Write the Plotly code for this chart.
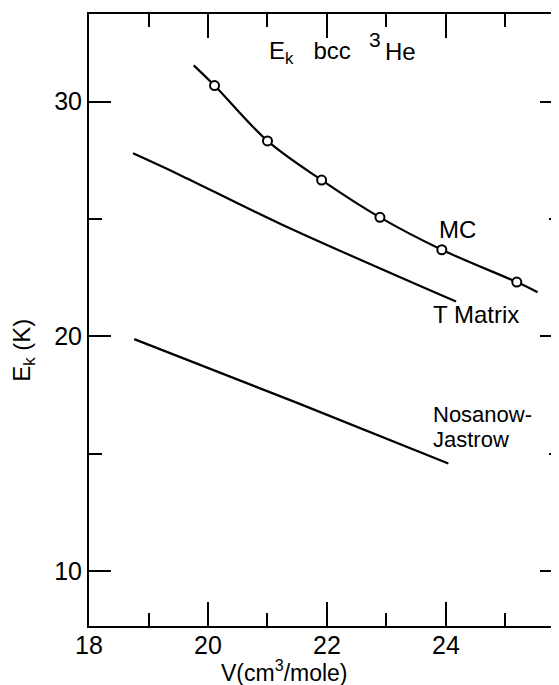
import plotly.graph_objects as go

# ---- data ----
mc_v = [20.11, 21.00, 21.91, 22.89, 23.93, 25.19]
mc_e = [30.69, 28.33, 26.66, 25.07, 23.69, 22.31]
mc_curve_v = [19.76, 20.11, 21.00, 21.91, 22.89, 23.93, 25.19, 25.54]
mc_curve_e = [31.55, 30.69, 28.33, 26.66, 25.07, 23.69, 22.31, 21.88]
tm_v = [18.74, 19.50, 21.22, 24.17]
tm_e = [27.80, 26.91, 24.79, 21.48]
nj_v = [18.76, 21.52, 24.04]
nj_e = [19.88, 17.14, 14.58]
x_ticks = [18, 20, 22, 24]
x_minor = [19, 21, 23, 25]
y_ticks = [10, 20, 30]
y_minor = [15, 25]

FONT = "Liberation Sans"
BLACK = "black"

fig = go.Figure()
fig.add_trace(go.Scatter(x=mc_curve_v, y=mc_curve_e, mode="lines",
                         line=dict(color=BLACK, width=2.2, shape="spline"),
                         showlegend=False, hoverinfo="skip"))
fig.add_trace(go.Scatter(x=mc_v, y=mc_e, mode="markers",
                         marker=dict(symbol="circle", size=9, color="white",
                                     line=dict(color=BLACK, width=2)),
                         showlegend=False))
fig.add_trace(go.Scatter(x=tm_v, y=tm_e, mode="lines",
                         line=dict(color=BLACK, width=2.2, shape="spline"),
                         showlegend=False))
fig.add_trace(go.Scatter(x=nj_v, y=nj_e, mode="lines",
                         line=dict(color=BLACK, width=2.2),
                         showlegend=False))

xr = [18, 25.95]
yr = [7.65, 33.74]

# page has an 8px body margin; figure is offset accordingly
fig.update_layout(
    width=560, height=677,
    margin=dict(l=81, r=4, t=5, b=59),
    paper_bgcolor="white", plot_bgcolor="white",
    font=dict(family=FONT, color=BLACK, size=24),
    showlegend=False,
    xaxis=dict(range=xr, tickvals=x_ticks, ticktext=[str(v) for v in x_ticks],
               ticks="inside", ticklen=24, tickwidth=2, tickcolor=BLACK,
               minor=dict(tickvals=x_minor, ticks="inside", ticklen=13,
                          tickwidth=2, tickcolor=BLACK),
               showline=True, linewidth=2, linecolor=BLACK, mirror="ticks",
               showgrid=False, zeroline=False, ticklabelstandoff=-4,
               tickfont=dict(family=FONT, size=25)),
    yaxis=dict(range=yr, tickvals=y_ticks, ticktext=[str(v) for v in y_ticks],
               ticks="inside", ticklen=22, tickwidth=2, tickcolor=BLACK,
               minor=dict(tickvals=y_minor, ticks="inside", ticklen=13,
                          tickwidth=2, tickcolor=BLACK),
               showline=True, linewidth=2, linecolor=BLACK, mirror="ticks",
               showgrid=False, zeroline=False,
               tickfont=dict(family=FONT, size=25)),
)

ann = [
    dict(text="E<sub>k</sub>\u00a0\u00a0\u00a0bcc", x=21.0, y=32.1,
         xanchor="left", yanchor="middle", font=dict(size=24)),
    dict(text="3", x=22.67, y=32.64, xanchor="left", yanchor="middle",
         font=dict(size=21)),
    dict(text="He", x=22.94, y=32.14, xanchor="left", yanchor="middle",
         font=dict(size=24)),
    dict(text="MC", x=24.20, y=24.54, xanchor="center", yanchor="middle"),
    dict(text="T Matrix", x=23.74, y=20.91, xanchor="left", yanchor="middle"),
    dict(text="Nosanow-", x=23.75, y=16.66, xanchor="left", yanchor="middle",
         font=dict(size=22)),
    dict(text="Jastrow", x=23.75, y=15.62, xanchor="left", yanchor="middle",
         font=dict(size=22)),
]
for a in ann:
    a.update(xref="x", yref="y", showarrow=False)
    fig.add_annotation(**a)

fig.add_annotation(text="E<sub>k</sub> (K)", xref="paper", yref="paper",
                   x=-0.139, y=0.450, textangle=-90,
                   xanchor="center", yanchor="middle", showarrow=False,
                   font=dict(size=24))
fig.add_annotation(text="V(cm<sup>3</sup>/mole)", xref="paper", yref="paper",
                   x=0.4126, y=-0.074,
                   xanchor="center", yanchor="middle", showarrow=False,
                   font=dict(size=23))

fig.write_html("out.html")
